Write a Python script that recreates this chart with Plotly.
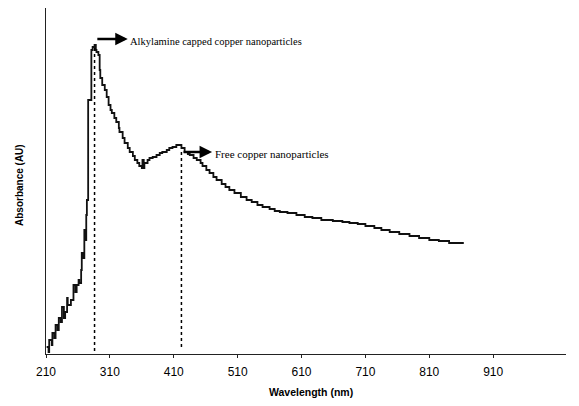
import plotly.graph_objects as go

# Wavelength (nm) and absorbance (AU)
wavelength = [211, 214, 215, 219, 220, 223, 225, 228, 230, 233, 235, 238, 240, 243, 244, 247, 249,
              252, 253, 256, 258, 261, 262, 265, 266, 268, 270, 271, 273, 274, 276, 280, 281, 283,
              286, 288, 289, 292, 294, 295, 298, 302, 305, 308, 311, 313, 317, 320, 324, 325, 330,
              333, 338, 341, 346, 349, 353, 356, 360, 361, 363, 364, 369, 372, 377, 383, 388, 392,
              399, 403, 408, 414, 419, 422, 427, 432, 435, 441, 446, 452, 455, 461, 466, 472, 477,
              485, 491, 497, 505, 515, 524, 532, 541, 549, 560, 568, 576, 588, 602, 615, 627, 641,
              659, 674, 685, 698, 710, 724, 735, 748, 763, 779, 794, 810, 825, 841, 864]
absorbance = [0.07, 0.02, 0.14, 0.09, 0.21, 0.16, 0.29, 0.24, 0.36, 0.32, 0.47, 0.36, 0.42, 0.56,
              0.49, 0.49, 0.54, 0.54, 0.69, 0.62, 0.69, 0.74, 0.71, 0.84, 1.01, 0.96, 1.24, 1.14,
              1.39, 1.54, 2.54, 2.54, 3.04, 3.07, 3.09, 3.04, 3.02, 2.99, 2.84, 2.76, 2.69, 2.64,
              2.57, 2.49, 2.44, 2.41, 2.36, 2.32, 2.26, 2.22, 2.16, 2.11, 2.06, 2.02, 1.98, 1.94,
              1.91, 1.88, 1.86, 1.94, 1.86, 1.91, 1.94, 1.96, 1.97, 1.99, 2.01, 2.02, 2.04, 2.06,
              2.07, 2.09, 2.09, 2.06, 2.02, 2.00, 1.99, 1.96, 1.94, 1.91, 1.88, 1.84, 1.81, 1.77,
              1.74, 1.70, 1.67, 1.64, 1.61, 1.57, 1.54, 1.52, 1.49, 1.47, 1.45, 1.43, 1.42, 1.41,
              1.39, 1.37, 1.36, 1.34, 1.33, 1.32, 1.31, 1.30, 1.28, 1.26, 1.24, 1.22, 1.20, 1.18,
              1.16, 1.14, 1.13, 1.11, 1.11]

tick_values = [210, 310, 410, 510, 610, 710, 810, 910]
tick_labels = ["210", "310", "410", "510", "610", "710", "810", "910"]
label_capped = "Alkylamine capped copper nanoparticles"
label_free = "Free copper nanoparticles"
x_title = "Wavelength (nm)"
y_title = "Absorbance (AU)"

# peaks derived from the data
i1 = max(range(len(absorbance)), key=lambda i: absorbance[i])
sub = [i for i in range(len(wavelength)) if 380 <= wavelength[i] <= 450]
m2 = max(absorbance[i] for i in sub)
i2 = [i for i in sub if absorbance[i] == m2][-1]
p1x, p1y = wavelength[i1], absorbance[i1]
p2x, p2y = wavelength[i2], absorbance[i2]

fig = go.Figure()
fig.add_trace(go.Scatter(x=wavelength, y=absorbance, mode="lines", line_shape="hv",
                         line=dict(color="#111", width=1.8), hoverinfo="skip", showlegend=False))

# dotted drop lines
fig.add_shape(type="line", x0=p1x, x1=p1x, y0=-0.03, y1=p1y, xref="x", yref="y",
              line=dict(color="black", width=1.5, dash="dot"))
fig.add_shape(type="line", x0=p2x + 3, x1=p2x + 3, y0=0.07, y1=p2y - 0.04, xref="x", yref="y",
              line=dict(color="black", width=1.5, dash="dot"))

serif = "Liberation Serif, Times New Roman, serif"
sans = "Liberation Sans, Arial, sans-serif"

# arrows
fig.add_annotation(x=p1x + 52, y=p1y + 0.06, ax=p1x + 2, ay=p1y + 0.06, xref="x", yref="y",
                   axref="x", ayref="y", showarrow=True, arrowhead=2, arrowsize=1,
                   arrowwidth=2.5, arrowcolor="black", text="")
fig.add_annotation(x=p1x + 53, y=p1y + 0.04, xref="x", yref="y", text=label_capped,
                   showarrow=False, xanchor="left", yanchor="middle",
                   font=dict(family=serif, size=10.5, color="black"))
fig.add_annotation(x=p2x + 51, y=p2y - 0.07, ax=p2x + 4, ay=p2y - 0.07, xref="x", yref="y",
                   axref="x", ayref="y", showarrow=True, arrowhead=2, arrowsize=1,
                   arrowwidth=2.5, arrowcolor="black", text="")
fig.add_annotation(x=p2x + 52, y=p2y - 0.09, xref="x", yref="y", text=label_free,
                   showarrow=False, xanchor="left", yanchor="middle",
                   font=dict(family=serif, size=11, color="black"))

# axis titles
pw, ph = 579 - 46 - 13, 406 - 8 - 52
fig.add_annotation(x=(311 - 46) / pw, y=(354 - 392) / ph, xref="paper", yref="paper",
                   xanchor="center", yanchor="middle", text="<b>" + x_title + "</b>",
                   showarrow=False, font=dict(family=sans, size=10.5, color="black"))
fig.add_annotation(x=(19 - 46) / pw, y=(354 - 185) / ph, xref="paper", yref="paper",
                   xanchor="center", yanchor="middle", text="<b>" + y_title + "</b>",
                   showarrow=False, textangle=-90, font=dict(family=sans, size=10, color="black"))

fig.update_layout(
    width=579, height=406,
    margin=dict(l=46, r=13, t=8, b=52),
    paper_bgcolor="white", plot_bgcolor="white",
    xaxis=dict(range=[210, 1024], tickvals=tick_values, ticktext=tick_labels,
               showgrid=False, zeroline=False, showline=True, linecolor="#222", linewidth=1,
               ticks="outside", ticklen=3, tickcolor="#222", automargin=False,
               ticklabelstandoff=4,
               tickfont=dict(family=sans, size=12, color="black")),
    yaxis=dict(range=[0, 3.46], showgrid=False, zeroline=False, showline=True, automargin=False,
               linecolor="#222", linewidth=1, showticklabels=False, ticks=""),
)

fig.write_html("out.html", config={"displayModeBar": False},
               post_script="document.body.style.margin='0';document.body.style.overflow='hidden';")
